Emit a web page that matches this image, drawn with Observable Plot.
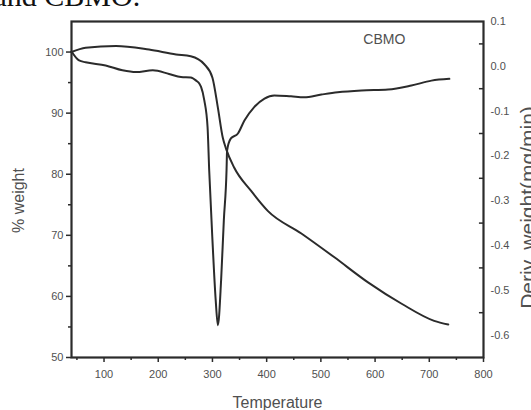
<!DOCTYPE html>
<html>
<head>
<meta charset="utf-8">
<script src="https://cdn.jsdelivr.net/npm/d3@7"></script>
<script src="https://cdn.jsdelivr.net/npm/@observablehq/plot@0.6"></script>
<style>
  html, body { margin: 0; padding: 0; background: #fff; }
  #chart { width: 531px; height: 410px; overflow: hidden; }
</style>
</head>
<body>
<div id="chart"></div>
<script>
// TGA curve: temperature (°C) and % weight
const tgaTemp = [40, 66, 122, 183, 233, 260, 285, 300, 310, 319, 325, 340, 371, 402, 464, 525, 587, 649, 709, 735];
const tgaWeight = [100, 100.7, 101.0, 100.4, 99.6, 99.3, 98.0, 95.8, 90.9, 86.0, 84.2, 81.1, 77.3, 74.0, 70.3, 66.4, 62.3, 58.8, 56.0, 55.4];

// DTG curve: temperature (°C) and derivative weight (mg/min)
const dtgTemp = [40, 54, 66, 103, 134, 159, 190, 220, 242, 260, 270, 276, 279, 285, 291, 294, 300, 306, 310, 316, 321, 326, 327, 334, 347, 359, 377, 396, 414, 445, 469, 501, 531, 575, 624, 667, 704, 737];
const dtgValue = [0.033, 0.013, 0.009, 0.002, -0.009, -0.013, -0.009, -0.017, -0.024, -0.025, -0.032, -0.039, -0.046, -0.076, -0.136, -0.232, -0.388, -0.522, -0.578, -0.477, -0.344, -0.232, -0.188, -0.161, -0.150, -0.121, -0.091, -0.072, -0.065, -0.067, -0.069, -0.063, -0.058, -0.054, -0.052, -0.043, -0.032, -0.028];

// Tick values
const xTicks = [100, 200, 300, 400, 500, 600, 700, 800];
const xMinor = [50, 150, 250, 350, 450, 550, 650, 750];
const yLeftTicks = [50, 60, 70, 80, 90, 100];
const yLeftMinor = [55, 65, 75, 85, 95];
const yRightTicks = [0.1, 0.0, -0.1, -0.2, -0.3, -0.4, -0.5, -0.6];
const yRightMinor = [0.05, -0.05, -0.15, -0.25, -0.35, -0.45, -0.55];

const leftDomain = [50, 105];
const rightDomain = [-0.65, 0.1];
const toL = d3.scaleLinear(rightDomain, leftDomain);

const tga = tgaTemp.map((t, i) => ({t, w: tgaWeight[i]}));
const dtg = dtgTemp.map((t, i) => ({t, v: dtgValue[i]}));

const ink = "#2b2b2b";
const grey = "#505050";
const font = "'Liberation Sans', Arial, Helvetica, sans-serif";

const plot = Plot.plot({
  width: 531,
  height: 410,
  marginLeft: 71,
  marginRight: 48,
  marginTop: 21,
  marginBottom: 53,
  style: {fontFamily: font, fontSize: "11px", color: grey, background: "#fff", overflow: "visible"},
  x: {domain: [40, 800]},
  y: {domain: leftDomain},
  marks: [
    // minor ticks
    Plot.axisX(xMinor, {tickSize: 3, tickFormat: () => "", stroke: ink, strokeWidth: 1.5, label: null}),
    Plot.axisY(yLeftMinor, {tickSize: 3, tickFormat: () => "", stroke: ink, strokeWidth: 1.5, label: null}),
    Plot.ruleY(yRightMinor, {y: d => toL(d), x1: 792.5, x2: 800, stroke: ink, strokeWidth: 1.5}),
    // major axes
    Plot.axisX(xTicks, {tickSize: 5, tickPadding: 8, stroke: ink, strokeWidth: 1.5, fill: grey, fontSize: 11, label: null}),
    Plot.axisY(yLeftTicks, {tickSize: 5, tickPadding: 3, stroke: ink, strokeWidth: 1.5, fill: grey, fontSize: 11, label: null}),
    Plot.axisY(yRightTicks.map(d => toL(d)), {anchor: "right", tickSize: 0, tickPadding: 7,
      tickFormat: d => (Math.round(toL.invert(d) * 10) / 10).toFixed(1), fill: grey, fontSize: 11, label: null}),
    Plot.frame({stroke: ink, strokeWidth: 2.2}),
    // curves
    Plot.line(tga, {x: "t", y: "w", stroke: ink, strokeWidth: 2, curve: "monotone-x"}),
    Plot.line(dtg, {x: "t", y: d => toL(d.v), stroke: ink, strokeWidth: 2, curve: "monotone-x"}),
    // axis titles
    Plot.text(["Temperature"], {frameAnchor: "bottom", dy: 45, text: d => d, fontSize: 16, fill: grey, lineAnchor: "middle", textAnchor: "middle"}),
    Plot.text(["% weight"], {frameAnchor: "left", dx: -53, dy: 11, text: d => d, fontSize: 16, fill: grey, rotate: -90, lineAnchor: "middle", textAnchor: "middle"}),
    Plot.text(["Deriv. weight(mg/min)"], {frameAnchor: "right", dx: 45, dy: 18, text: d => d, fontSize: 21, fill: grey, rotate: -90, lineAnchor: "middle", textAnchor: "middle"}),
    // annotation
    Plot.text(["CBMO"], {x: 617, y: 102.1, text: d => d, fontSize: 14, fill: grey}),
    // fragment of page text above the figure
    Plot.text(["and CBMO."], {frameAnchor: "top-left", dx: -78, dy: -16, lineAnchor: "bottom", textAnchor: "start",
      fontSize: 30, fontFamily: "'Liberation Serif', 'Times New Roman', serif", fill: "#111"})
  ]
});

document.getElementById("chart").appendChild(plot);
</script>
</body>
</html>
